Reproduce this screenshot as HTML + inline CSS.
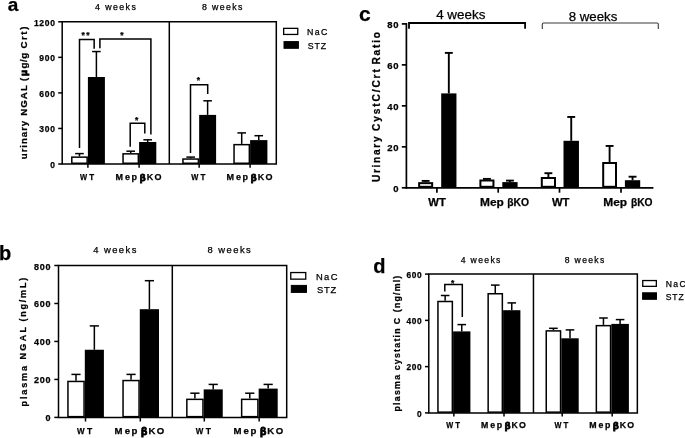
<!DOCTYPE html>
<html lang="en"><head><meta charset="utf-8"><title>Figure</title>
<style>
html,body{margin:0;padding:0;background:#fff;}
body{width:685px;height:438px;overflow:hidden;}
svg{display:block;font-family:"Liberation Sans", sans-serif;}
text{stroke:#000;stroke-width:0.25px;}
</style></head><body>
<svg width="685" height="438" viewBox="0 0 685 438">
<rect width="685" height="438" fill="#fff"/>
<path d="M62.2 21.8 H276.3 V164.0 H62.2 Z" fill="none" stroke="#000" stroke-width="1.5" stroke-linejoin="miter"/>
<line x1="169.30" y1="21.80" x2="169.30" y2="164.00" stroke="#000" stroke-width="1.5" stroke-linecap="butt"/>
<line x1="58.20" y1="164.00" x2="62.20" y2="164.00" stroke="#000" stroke-width="1.5" stroke-linecap="butt"/>
<text x="55.60" y="167.80" font-size="8.5" text-anchor="end" fill="#000" font-weight="bold" letter-spacing="0.7" >0</text>
<line x1="58.20" y1="128.45" x2="62.20" y2="128.45" stroke="#000" stroke-width="1.5" stroke-linecap="butt"/>
<text x="55.60" y="132.25" font-size="8.5" text-anchor="end" fill="#000" font-weight="bold" letter-spacing="0.7" >300</text>
<line x1="58.20" y1="92.90" x2="62.20" y2="92.90" stroke="#000" stroke-width="1.5" stroke-linecap="butt"/>
<text x="55.60" y="96.70" font-size="8.5" text-anchor="end" fill="#000" font-weight="bold" letter-spacing="0.7" >600</text>
<line x1="58.20" y1="57.35" x2="62.20" y2="57.35" stroke="#000" stroke-width="1.5" stroke-linecap="butt"/>
<text x="55.60" y="61.15" font-size="8.5" text-anchor="end" fill="#000" font-weight="bold" letter-spacing="0.7" >900</text>
<line x1="58.20" y1="21.80" x2="62.20" y2="21.80" stroke="#000" stroke-width="1.5" stroke-linecap="butt"/>
<text x="55.60" y="25.60" font-size="8.5" text-anchor="end" fill="#000" font-weight="bold" letter-spacing="0.7" >1200</text>
<line x1="79.47" y1="153.60" x2="79.47" y2="156.40" stroke="#000" stroke-width="1.5" stroke-linecap="butt"/>
<line x1="75.17" y1="153.60" x2="83.77" y2="153.60" stroke="#000" stroke-width="1.5" stroke-linecap="butt"/>
<rect x="71.80" y="157.15" width="15.35" height="6.10" fill="#fff" stroke="#000" stroke-width="1.5"/>
<line x1="96.40" y1="51.55" x2="96.40" y2="77.00" stroke="#000" stroke-width="1.5" stroke-linecap="butt"/>
<line x1="92.10" y1="51.55" x2="100.70" y2="51.55" stroke="#000" stroke-width="1.5" stroke-linecap="butt"/>
<rect x="87.90" y="77.00" width="17.00" height="87.00" fill="#000"/>
<line x1="130.70" y1="151.20" x2="130.70" y2="153.10" stroke="#000" stroke-width="1.5" stroke-linecap="butt"/>
<line x1="126.40" y1="151.20" x2="135.00" y2="151.20" stroke="#000" stroke-width="1.5" stroke-linecap="butt"/>
<rect x="123.05" y="153.85" width="15.30" height="9.40" fill="#fff" stroke="#000" stroke-width="1.5"/>
<line x1="147.70" y1="139.80" x2="147.70" y2="142.00" stroke="#000" stroke-width="1.5" stroke-linecap="butt"/>
<line x1="143.40" y1="139.80" x2="152.00" y2="139.80" stroke="#000" stroke-width="1.5" stroke-linecap="butt"/>
<rect x="139.10" y="142.00" width="17.20" height="22.00" fill="#000"/>
<line x1="190.68" y1="157.10" x2="190.68" y2="158.30" stroke="#000" stroke-width="1.5" stroke-linecap="butt"/>
<line x1="186.38" y1="157.10" x2="194.98" y2="157.10" stroke="#000" stroke-width="1.5" stroke-linecap="butt"/>
<rect x="182.95" y="159.05" width="15.45" height="4.20" fill="#fff" stroke="#000" stroke-width="1.5"/>
<line x1="207.62" y1="100.80" x2="207.62" y2="114.90" stroke="#000" stroke-width="1.5" stroke-linecap="butt"/>
<line x1="203.32" y1="100.80" x2="211.93" y2="100.80" stroke="#000" stroke-width="1.5" stroke-linecap="butt"/>
<rect x="199.15" y="114.90" width="16.95" height="49.10" fill="#000"/>
<line x1="241.70" y1="132.90" x2="241.70" y2="143.90" stroke="#000" stroke-width="1.5" stroke-linecap="butt"/>
<line x1="237.40" y1="132.90" x2="246.00" y2="132.90" stroke="#000" stroke-width="1.5" stroke-linecap="butt"/>
<rect x="234.05" y="144.65" width="15.30" height="18.60" fill="#fff" stroke="#000" stroke-width="1.5"/>
<line x1="258.75" y1="135.70" x2="258.75" y2="140.10" stroke="#000" stroke-width="1.5" stroke-linecap="butt"/>
<line x1="254.45" y1="135.70" x2="263.05" y2="135.70" stroke="#000" stroke-width="1.5" stroke-linecap="butt"/>
<rect x="250.10" y="140.10" width="17.30" height="23.90" fill="#000"/>
<line x1="87.90" y1="164.00" x2="87.90" y2="167.80" stroke="#000" stroke-width="1.5" stroke-linecap="butt"/>
<line x1="139.10" y1="164.00" x2="139.10" y2="167.80" stroke="#000" stroke-width="1.5" stroke-linecap="butt"/>
<line x1="199.15" y1="164.00" x2="199.15" y2="167.80" stroke="#000" stroke-width="1.5" stroke-linecap="butt"/>
<line x1="250.10" y1="164.00" x2="250.10" y2="167.80" stroke="#000" stroke-width="1.5" stroke-linecap="butt"/>
<text x="80.00" y="179.80" font-size="9.30" font-weight="bold" textLength="7.10" lengthAdjust="spacingAndGlyphs">W</text>
<text x="89.35" y="179.80" font-size="9.30" font-weight="bold" textLength="4.90" lengthAdjust="spacingAndGlyphs">T</text>
<text x="115.60 125.10 131.60" y="179.80" font-size="9.00" font-weight="bold">Mep</text>
<text x="139.80" y="180.90" font-size="9.60" font-weight="bold" style="stroke-width:0.9px">β</text>
<text x="146.80 154.55" y="179.80" font-size="9.00" font-weight="bold">KO</text>
<text x="191.25" y="179.80" font-size="9.30" font-weight="bold" textLength="7.10" lengthAdjust="spacingAndGlyphs">W</text>
<text x="200.60" y="179.80" font-size="9.30" font-weight="bold" textLength="4.90" lengthAdjust="spacingAndGlyphs">T</text>
<text x="226.60 236.10 242.60" y="179.80" font-size="9.00" font-weight="bold">Mep</text>
<text x="250.80" y="180.90" font-size="9.60" font-weight="bold" style="stroke-width:0.9px">β</text>
<text x="257.80 265.55" y="179.80" font-size="9.00" font-weight="bold">KO</text>
<text x="95.00" y="10.00" font-size="8.8" text-anchor="start" fill="#000" letter-spacing="1.42" >4 weeks</text>
<text x="202.00" y="10.00" font-size="8.8" text-anchor="start" fill="#000" letter-spacing="1.37" >8 weeks</text>
<text x="13.00" y="11.40" font-size="19" text-anchor="middle" fill="#000" font-weight="bold" >a</text>
<text x="26.80" y="159.20" font-size="9.7" text-anchor="start" fill="#000" font-weight="bold" letter-spacing="0.936" transform="rotate(-90 26.80 159.20)" >urinary</text>
<text x="26.80" y="115.80" font-size="9.7" text-anchor="start" fill="#000" font-weight="bold" letter-spacing="1.073" transform="rotate(-90 26.80 115.80)" >NGAL</text>
<text x="26.80" y="81.00" font-size="9.7" text-anchor="start" fill="#000" font-weight="bold" transform="rotate(-90 26.80 81.00)" >(</text>
<text x="26.8" y="75.9" font-size="9.7" font-weight="bold" style="stroke-width:0.9px" transform="rotate(-90 26.8 75.9)">μ</text>
<text x="26.80" y="68.40" font-size="9.7" text-anchor="start" fill="#000" font-weight="bold" letter-spacing="0.477" transform="rotate(-90 26.80 68.40)" >g/g</text>
<text x="26.80" y="48.50" font-size="9.7" text-anchor="start" fill="#000" font-weight="bold" letter-spacing="1.553" transform="rotate(-90 26.80 48.50)" >Crt)</text>
<rect x="283.65" y="28.35" width="14.10" height="6.10" fill="#fff" stroke="#000" stroke-width="1.3"/>
<rect x="284.00" y="41.60" width="14.40" height="6.70" fill="#000" stroke="#000" stroke-width="1.0"/>
<text x="306.90" y="35.30" font-size="8.8" text-anchor="start" fill="#000" letter-spacing="1.448" >NaC</text>
<text x="307.70" y="48.80" font-size="8.8" text-anchor="start" fill="#000" letter-spacing="0.94" >STZ</text>
<path d="M79.50 148.00 V39.50 H94.15 V48.80" fill="none" stroke="#000" stroke-width="1.5" stroke-linejoin="miter"/>
<path d="M99.90 48.20 V38.90 H150.90 V134.50" fill="none" stroke="#000" stroke-width="1.5" stroke-linejoin="miter"/>
<path d="M130.20 146.80 V123.30 H144.80 V133.60" fill="none" stroke="#000" stroke-width="1.5" stroke-linejoin="miter"/>
<path d="M190.50 152.90 V84.80 H207.70 V94.10" fill="none" stroke="#000" stroke-width="1.5" stroke-linejoin="miter"/>
<text x="86.25" y="38.40" font-size="8.5" text-anchor="middle" fill="#000" font-weight="bold" letter-spacing="1.5" >**</text>
<text x="122.00" y="38.40" font-size="8.5" text-anchor="middle" fill="#000" font-weight="bold" >*</text>
<text x="136.60" y="122.80" font-size="8.5" text-anchor="middle" fill="#000" font-weight="bold" >*</text>
<text x="198.30" y="82.50" font-size="8.5" text-anchor="middle" fill="#000" font-weight="bold" >*</text>
<path d="M58.5 265.5 H286.7 V417.4 H58.5 Z" fill="none" stroke="#000" stroke-width="1.5" stroke-linejoin="miter"/>
<line x1="172.30" y1="265.50" x2="172.30" y2="417.40" stroke="#000" stroke-width="1.5" stroke-linecap="butt"/>
<line x1="54.30" y1="417.40" x2="58.50" y2="417.40" stroke="#000" stroke-width="1.5" stroke-linecap="butt"/>
<text x="51.20" y="421.40" font-size="9.0" text-anchor="end" fill="#000" font-weight="bold" letter-spacing="0.75" >0</text>
<line x1="54.30" y1="379.42" x2="58.50" y2="379.42" stroke="#000" stroke-width="1.5" stroke-linecap="butt"/>
<text x="51.20" y="383.42" font-size="9.0" text-anchor="end" fill="#000" font-weight="bold" letter-spacing="0.75" >200</text>
<line x1="54.30" y1="341.45" x2="58.50" y2="341.45" stroke="#000" stroke-width="1.5" stroke-linecap="butt"/>
<text x="51.20" y="345.45" font-size="9.0" text-anchor="end" fill="#000" font-weight="bold" letter-spacing="0.75" >400</text>
<line x1="54.30" y1="303.48" x2="58.50" y2="303.48" stroke="#000" stroke-width="1.5" stroke-linecap="butt"/>
<text x="51.20" y="307.48" font-size="9.0" text-anchor="end" fill="#000" font-weight="bold" letter-spacing="0.75" >600</text>
<line x1="54.30" y1="265.50" x2="58.50" y2="265.50" stroke="#000" stroke-width="1.5" stroke-linecap="butt"/>
<text x="51.20" y="269.50" font-size="9.0" text-anchor="end" fill="#000" font-weight="bold" letter-spacing="0.75" >800</text>
<line x1="76.00" y1="374.40" x2="76.00" y2="380.70" stroke="#000" stroke-width="1.5" stroke-linecap="butt"/>
<line x1="71.40" y1="374.40" x2="80.60" y2="374.40" stroke="#000" stroke-width="1.5" stroke-linecap="butt"/>
<rect x="67.95" y="381.45" width="16.10" height="35.20" fill="#fff" stroke="#000" stroke-width="1.5"/>
<line x1="94.35" y1="325.90" x2="94.35" y2="349.75" stroke="#000" stroke-width="1.5" stroke-linecap="butt"/>
<line x1="89.75" y1="325.90" x2="98.95" y2="325.90" stroke="#000" stroke-width="1.5" stroke-linecap="butt"/>
<rect x="84.80" y="349.75" width="19.10" height="67.65" fill="#000"/>
<line x1="131.05" y1="374.40" x2="131.05" y2="379.80" stroke="#000" stroke-width="1.5" stroke-linecap="butt"/>
<line x1="126.45" y1="374.40" x2="135.65" y2="374.40" stroke="#000" stroke-width="1.5" stroke-linecap="butt"/>
<rect x="123.05" y="380.55" width="16.00" height="36.10" fill="#fff" stroke="#000" stroke-width="1.5"/>
<line x1="149.40" y1="280.70" x2="149.40" y2="309.20" stroke="#000" stroke-width="1.5" stroke-linecap="butt"/>
<line x1="144.80" y1="280.70" x2="154.00" y2="280.70" stroke="#000" stroke-width="1.5" stroke-linecap="butt"/>
<rect x="139.80" y="309.20" width="19.20" height="108.20" fill="#000"/>
<line x1="194.90" y1="393.20" x2="194.90" y2="398.60" stroke="#000" stroke-width="1.5" stroke-linecap="butt"/>
<line x1="190.30" y1="393.20" x2="199.50" y2="393.20" stroke="#000" stroke-width="1.5" stroke-linecap="butt"/>
<rect x="186.85" y="399.35" width="16.10" height="17.30" fill="#fff" stroke="#000" stroke-width="1.5"/>
<line x1="213.22" y1="384.40" x2="213.22" y2="389.40" stroke="#000" stroke-width="1.5" stroke-linecap="butt"/>
<line x1="208.62" y1="384.40" x2="217.82" y2="384.40" stroke="#000" stroke-width="1.5" stroke-linecap="butt"/>
<rect x="203.70" y="389.40" width="19.05" height="28.00" fill="#000"/>
<line x1="249.77" y1="393.20" x2="249.77" y2="398.60" stroke="#000" stroke-width="1.5" stroke-linecap="butt"/>
<line x1="245.17" y1="393.20" x2="254.37" y2="393.20" stroke="#000" stroke-width="1.5" stroke-linecap="butt"/>
<rect x="241.65" y="399.35" width="16.25" height="17.30" fill="#fff" stroke="#000" stroke-width="1.5"/>
<line x1="268.17" y1="384.40" x2="268.17" y2="388.60" stroke="#000" stroke-width="1.5" stroke-linecap="butt"/>
<line x1="263.57" y1="384.40" x2="272.77" y2="384.40" stroke="#000" stroke-width="1.5" stroke-linecap="butt"/>
<rect x="258.65" y="388.60" width="19.05" height="28.80" fill="#000"/>
<line x1="85.50" y1="417.40" x2="85.50" y2="421.50" stroke="#000" stroke-width="1.5" stroke-linecap="butt"/>
<line x1="140.30" y1="417.40" x2="140.30" y2="421.50" stroke="#000" stroke-width="1.5" stroke-linecap="butt"/>
<line x1="204.30" y1="417.40" x2="204.30" y2="421.50" stroke="#000" stroke-width="1.5" stroke-linecap="butt"/>
<line x1="259.15" y1="417.40" x2="259.15" y2="421.50" stroke="#000" stroke-width="1.5" stroke-linecap="butt"/>
<text x="77.07" y="433.90" font-size="9.92" font-weight="bold" textLength="7.58" lengthAdjust="spacingAndGlyphs">W</text>
<text x="87.05" y="433.90" font-size="9.92" font-weight="bold" textLength="5.23" lengthAdjust="spacingAndGlyphs">T</text>
<text x="114.53 124.66 131.60" y="433.90" font-size="9.60" font-weight="bold">Mep</text>
<text x="141.05" y="435.07" font-size="10.24" font-weight="bold" style="stroke-width:0.9px">β</text>
<text x="148.52 156.79" y="433.90" font-size="9.60" font-weight="bold">KO</text>
<text x="195.87" y="433.90" font-size="9.92" font-weight="bold" textLength="7.58" lengthAdjust="spacingAndGlyphs">W</text>
<text x="205.85" y="433.90" font-size="9.92" font-weight="bold" textLength="5.23" lengthAdjust="spacingAndGlyphs">T</text>
<text x="233.38 243.51 250.45" y="433.90" font-size="9.60" font-weight="bold">Mep</text>
<text x="259.90" y="435.07" font-size="10.24" font-weight="bold" style="stroke-width:0.9px">β</text>
<text x="267.37 275.64" y="433.90" font-size="9.60" font-weight="bold">KO</text>
<text x="93.20" y="252.80" font-size="9.4" text-anchor="start" fill="#000" letter-spacing="1.469" >4 weeks</text>
<text x="207.60" y="252.80" font-size="9.4" text-anchor="start" fill="#000" letter-spacing="1.469" >8 weeks</text>
<text x="5.00" y="260.00" font-size="20" text-anchor="middle" fill="#000" font-weight="bold" >b</text>
<text x="26.50" y="406.50" font-size="9.0" text-anchor="start" fill="#000" font-weight="bold" letter-spacing="1.897" transform="rotate(-90 26.50 406.50)" >plasma</text>
<text x="26.50" y="359.60" font-size="9.0" text-anchor="start" fill="#000" font-weight="bold" letter-spacing="2.401" transform="rotate(-90 26.50 359.60)" >NGAL</text>
<text x="26.50" y="321.60" font-size="9.0" text-anchor="start" fill="#000" font-weight="bold" letter-spacing="1.802" transform="rotate(-90 26.50 321.60)" >(ng/mL)</text>
<rect x="290.75" y="272.55" width="15.00" height="6.60" fill="#fff" stroke="#000" stroke-width="1.3"/>
<rect x="291.30" y="285.40" width="15.20" height="7.00" fill="#000" stroke="#000" stroke-width="1.0"/>
<text x="316.00" y="280.10" font-size="9.4" text-anchor="start" fill="#000" letter-spacing="1.348" >NaC</text>
<text x="316.90" y="292.90" font-size="9.4" text-anchor="start" fill="#000" letter-spacing="0.873" >STZ</text>
<line x1="406.40" y1="23.05" x2="406.40" y2="188.65" stroke="#000" stroke-width="1.7" stroke-linecap="butt"/>
<line x1="405.55" y1="187.80" x2="653.40" y2="187.80" stroke="#000" stroke-width="1.7" stroke-linecap="butt"/>
<line x1="401.80" y1="187.80" x2="406.40" y2="187.80" stroke="#000" stroke-width="1.7" stroke-linecap="butt"/>
<text x="399.20" y="192.00" font-size="9.5" text-anchor="end" fill="#000" font-weight="bold" letter-spacing="0.7" >0</text>
<line x1="401.80" y1="146.83" x2="406.40" y2="146.83" stroke="#000" stroke-width="1.7" stroke-linecap="butt"/>
<text x="399.20" y="151.03" font-size="9.5" text-anchor="end" fill="#000" font-weight="bold" letter-spacing="0.7" >20</text>
<line x1="401.80" y1="105.85" x2="406.40" y2="105.85" stroke="#000" stroke-width="1.7" stroke-linecap="butt"/>
<text x="399.20" y="110.05" font-size="9.5" text-anchor="end" fill="#000" font-weight="bold" letter-spacing="0.7" >40</text>
<line x1="401.80" y1="64.88" x2="406.40" y2="64.88" stroke="#000" stroke-width="1.7" stroke-linecap="butt"/>
<text x="399.20" y="69.08" font-size="9.5" text-anchor="end" fill="#000" font-weight="bold" letter-spacing="0.7" >60</text>
<line x1="401.80" y1="23.90" x2="406.40" y2="23.90" stroke="#000" stroke-width="1.7" stroke-linecap="butt"/>
<text x="399.20" y="28.10" font-size="9.5" text-anchor="end" fill="#000" font-weight="bold" letter-spacing="0.7" >80</text>
<line x1="425.65" y1="180.90" x2="425.65" y2="182.15" stroke="#000" stroke-width="1.9" stroke-linecap="butt"/>
<line x1="421.70" y1="180.90" x2="429.60" y2="180.90" stroke="#000" stroke-width="1.9" stroke-linecap="butt"/>
<rect x="419.15" y="183.15" width="13.00" height="3.65" fill="#fff" stroke="#000" stroke-width="2.0"/>
<line x1="448.82" y1="52.90" x2="448.82" y2="93.40" stroke="#000" stroke-width="1.9" stroke-linecap="butt"/>
<line x1="444.88" y1="52.90" x2="452.77" y2="52.90" stroke="#000" stroke-width="1.9" stroke-linecap="butt"/>
<rect x="441.20" y="93.40" width="15.25" height="94.40" fill="#000"/>
<line x1="486.92" y1="178.90" x2="486.92" y2="179.50" stroke="#000" stroke-width="1.9" stroke-linecap="butt"/>
<line x1="482.97" y1="178.90" x2="490.87" y2="178.90" stroke="#000" stroke-width="1.9" stroke-linecap="butt"/>
<rect x="480.40" y="180.50" width="13.05" height="6.30" fill="#fff" stroke="#000" stroke-width="2.0"/>
<line x1="509.95" y1="180.60" x2="509.95" y2="182.10" stroke="#000" stroke-width="1.9" stroke-linecap="butt"/>
<line x1="506.00" y1="180.60" x2="513.90" y2="180.60" stroke="#000" stroke-width="1.9" stroke-linecap="butt"/>
<rect x="502.30" y="182.10" width="15.30" height="5.70" fill="#000"/>
<line x1="548.40" y1="173.20" x2="548.40" y2="177.00" stroke="#000" stroke-width="1.9" stroke-linecap="butt"/>
<line x1="544.45" y1="173.20" x2="552.35" y2="173.20" stroke="#000" stroke-width="1.9" stroke-linecap="butt"/>
<rect x="541.80" y="178.00" width="13.20" height="8.80" fill="#fff" stroke="#000" stroke-width="2.0"/>
<line x1="571.23" y1="116.95" x2="571.23" y2="140.80" stroke="#000" stroke-width="1.9" stroke-linecap="butt"/>
<line x1="567.27" y1="116.95" x2="575.18" y2="116.95" stroke="#000" stroke-width="1.9" stroke-linecap="butt"/>
<rect x="563.50" y="140.80" width="15.45" height="47.00" fill="#000"/>
<line x1="609.60" y1="145.95" x2="609.60" y2="162.00" stroke="#000" stroke-width="1.9" stroke-linecap="butt"/>
<line x1="605.65" y1="145.95" x2="613.55" y2="145.95" stroke="#000" stroke-width="1.9" stroke-linecap="butt"/>
<rect x="603.20" y="163.00" width="12.80" height="23.80" fill="#fff" stroke="#000" stroke-width="2.0"/>
<line x1="632.55" y1="176.70" x2="632.55" y2="180.20" stroke="#000" stroke-width="1.9" stroke-linecap="butt"/>
<line x1="628.60" y1="176.70" x2="636.50" y2="176.70" stroke="#000" stroke-width="1.9" stroke-linecap="butt"/>
<rect x="624.90" y="180.20" width="15.30" height="7.60" fill="#000"/>
<line x1="436.90" y1="187.80" x2="436.90" y2="192.70" stroke="#000" stroke-width="1.7" stroke-linecap="butt"/>
<line x1="498.20" y1="187.80" x2="498.20" y2="192.70" stroke="#000" stroke-width="1.7" stroke-linecap="butt"/>
<line x1="559.50" y1="187.80" x2="559.50" y2="192.70" stroke="#000" stroke-width="1.7" stroke-linecap="butt"/>
<line x1="621.00" y1="187.80" x2="621.00" y2="192.70" stroke="#000" stroke-width="1.7" stroke-linecap="butt"/>
<text x="428.30" y="206.10" font-size="11" font-weight="bold" textLength="17.50" lengthAdjust="spacingAndGlyphs">WT</text>
<text x="480.00" y="206.10" font-size="11" font-weight="bold" textLength="23.80" lengthAdjust="spacingAndGlyphs">Mep</text>
<text x="507.30" y="206.10" font-size="11" font-weight="bold" textLength="21.80" lengthAdjust="spacingAndGlyphs">βKO</text>
<text x="552.00" y="206.10" font-size="11" font-weight="bold" textLength="17.50" lengthAdjust="spacingAndGlyphs">WT</text>
<text x="603.20" y="206.10" font-size="11" font-weight="bold" textLength="23.90" lengthAdjust="spacingAndGlyphs">Mep</text>
<text x="630.90" y="206.10" font-size="11" font-weight="bold" textLength="21.60" lengthAdjust="spacingAndGlyphs">βKO</text>
<text x="436.20" y="19.20" font-size="13.3" textLength="49.20" lengthAdjust="spacingAndGlyphs">4 weeks</text>
<text x="568.70" y="20.70" font-size="13.3" textLength="48.70" lengthAdjust="spacingAndGlyphs">8 weeks</text>
<text x="364.80" y="21.30" font-size="21" text-anchor="middle" fill="#000" font-weight="bold" >c</text>
<text x="380.30" y="182.00" font-size="10.2" text-anchor="start" fill="#000" font-weight="bold" letter-spacing="1.648" transform="rotate(-90 380.30 182.00)" >Urinary</text>
<text x="380.30" y="131.00" font-size="10.2" text-anchor="start" fill="#000" font-weight="bold" letter-spacing="1.857" transform="rotate(-90 380.30 131.00)" >CystC/Crt</text>
<text x="380.30" y="64.60" font-size="10.2" text-anchor="start" fill="#000" font-weight="bold" letter-spacing="1.775" transform="rotate(-90 380.30 64.60)" >Ratio</text>
<path d="M409 28.7 V23 H525.1 V28.7" fill="none" stroke="#000" stroke-width="1.8" stroke-linejoin="miter"/>
<path d="M542.3 28.9 V24.2 Q542.3 23 543.5 23 H657.1 Q658.3 23 658.3 24.2 V28.9" fill="none" stroke="#3a3a3a" stroke-width="1.1" stroke-linejoin="miter"/>
<path d="M428.8 274.1 H637.35 V412.9 H428.8 Z" fill="none" stroke="#000" stroke-width="1.5" stroke-linejoin="miter"/>
<line x1="533.45" y1="274.10" x2="533.45" y2="412.90" stroke="#000" stroke-width="1.5" stroke-linecap="butt"/>
<line x1="425.00" y1="412.90" x2="428.80" y2="412.90" stroke="#000" stroke-width="1.5" stroke-linecap="butt"/>
<text x="422.40" y="416.70" font-size="8.3" text-anchor="end" fill="#000" font-weight="bold" letter-spacing="0.7" >0</text>
<line x1="425.00" y1="366.63" x2="428.80" y2="366.63" stroke="#000" stroke-width="1.5" stroke-linecap="butt"/>
<text x="422.40" y="370.43" font-size="8.3" text-anchor="end" fill="#000" font-weight="bold" letter-spacing="0.7" >200</text>
<line x1="425.00" y1="320.37" x2="428.80" y2="320.37" stroke="#000" stroke-width="1.5" stroke-linecap="butt"/>
<text x="422.40" y="324.17" font-size="8.3" text-anchor="end" fill="#000" font-weight="bold" letter-spacing="0.7" >400</text>
<line x1="425.00" y1="274.10" x2="428.80" y2="274.10" stroke="#000" stroke-width="1.5" stroke-linecap="butt"/>
<text x="422.40" y="277.90" font-size="8.3" text-anchor="end" fill="#000" font-weight="bold" letter-spacing="0.7" >600</text>
<line x1="445.15" y1="295.50" x2="445.15" y2="300.75" stroke="#000" stroke-width="1.5" stroke-linecap="butt"/>
<line x1="440.85" y1="295.50" x2="449.45" y2="295.50" stroke="#000" stroke-width="1.5" stroke-linecap="butt"/>
<rect x="437.95" y="301.50" width="14.40" height="110.65" fill="#fff" stroke="#000" stroke-width="1.5"/>
<line x1="461.75" y1="324.60" x2="461.75" y2="331.40" stroke="#000" stroke-width="1.5" stroke-linecap="butt"/>
<line x1="457.45" y1="324.60" x2="466.05" y2="324.60" stroke="#000" stroke-width="1.5" stroke-linecap="butt"/>
<rect x="453.10" y="331.40" width="17.30" height="81.50" fill="#000"/>
<line x1="495.25" y1="285.10" x2="495.25" y2="293.00" stroke="#000" stroke-width="1.5" stroke-linecap="butt"/>
<line x1="490.95" y1="285.10" x2="499.55" y2="285.10" stroke="#000" stroke-width="1.5" stroke-linecap="butt"/>
<rect x="488.15" y="293.75" width="14.20" height="118.40" fill="#fff" stroke="#000" stroke-width="1.5"/>
<line x1="511.75" y1="302.90" x2="511.75" y2="310.20" stroke="#000" stroke-width="1.5" stroke-linecap="butt"/>
<line x1="507.45" y1="302.90" x2="516.05" y2="302.90" stroke="#000" stroke-width="1.5" stroke-linecap="butt"/>
<rect x="503.10" y="310.20" width="17.30" height="102.70" fill="#000"/>
<line x1="553.40" y1="328.30" x2="553.40" y2="330.15" stroke="#000" stroke-width="1.5" stroke-linecap="butt"/>
<line x1="549.10" y1="328.30" x2="557.70" y2="328.30" stroke="#000" stroke-width="1.5" stroke-linecap="butt"/>
<rect x="546.25" y="330.90" width="14.30" height="81.25" fill="#fff" stroke="#000" stroke-width="1.5"/>
<line x1="570.00" y1="329.90" x2="570.00" y2="338.30" stroke="#000" stroke-width="1.5" stroke-linecap="butt"/>
<line x1="565.70" y1="329.90" x2="574.30" y2="329.90" stroke="#000" stroke-width="1.5" stroke-linecap="butt"/>
<rect x="561.30" y="338.30" width="17.40" height="74.60" fill="#000"/>
<line x1="603.45" y1="318.00" x2="603.45" y2="324.90" stroke="#000" stroke-width="1.5" stroke-linecap="butt"/>
<line x1="599.15" y1="318.00" x2="607.75" y2="318.00" stroke="#000" stroke-width="1.5" stroke-linecap="butt"/>
<rect x="596.35" y="325.65" width="14.20" height="86.50" fill="#fff" stroke="#000" stroke-width="1.5"/>
<line x1="620.10" y1="319.60" x2="620.10" y2="323.90" stroke="#000" stroke-width="1.5" stroke-linecap="butt"/>
<line x1="615.80" y1="319.60" x2="624.40" y2="319.60" stroke="#000" stroke-width="1.5" stroke-linecap="butt"/>
<rect x="611.30" y="323.90" width="17.60" height="89.00" fill="#000"/>
<line x1="453.85" y1="412.90" x2="453.85" y2="416.50" stroke="#000" stroke-width="1.5" stroke-linecap="butt"/>
<line x1="504.00" y1="412.90" x2="504.00" y2="416.50" stroke="#000" stroke-width="1.5" stroke-linecap="butt"/>
<line x1="562.20" y1="412.90" x2="562.20" y2="416.50" stroke="#000" stroke-width="1.5" stroke-linecap="butt"/>
<line x1="612.20" y1="412.90" x2="612.20" y2="416.50" stroke="#000" stroke-width="1.5" stroke-linecap="butt"/>
<text x="446.15" y="427.60" font-size="9.07" font-weight="bold" textLength="6.92" lengthAdjust="spacingAndGlyphs">W</text>
<text x="455.26" y="427.60" font-size="9.07" font-weight="bold" textLength="4.78" lengthAdjust="spacingAndGlyphs">T</text>
<text x="481.09 490.35 496.69" y="427.60" font-size="8.78" font-weight="bold">Mep</text>
<text x="504.68" y="428.67" font-size="9.36" font-weight="bold" style="stroke-width:0.9px">β</text>
<text x="511.51 519.06" y="427.60" font-size="8.78" font-weight="bold">KO</text>
<text x="554.50" y="427.60" font-size="9.07" font-weight="bold" textLength="6.92" lengthAdjust="spacingAndGlyphs">W</text>
<text x="563.61" y="427.60" font-size="9.07" font-weight="bold" textLength="4.78" lengthAdjust="spacingAndGlyphs">T</text>
<text x="589.29 598.55 604.89" y="427.60" font-size="8.78" font-weight="bold">Mep</text>
<text x="612.88" y="428.67" font-size="9.36" font-weight="bold" style="stroke-width:0.9px">β</text>
<text x="619.71 627.26" y="427.60" font-size="8.78" font-weight="bold">KO</text>
<text x="460.65" y="262.60" font-size="8.6" text-anchor="start" fill="#000" letter-spacing="1.375" >4 weeks</text>
<text x="564.80" y="262.60" font-size="8.6" text-anchor="start" fill="#000" letter-spacing="1.325" >8 weeks</text>
<text x="379.30" y="272.60" font-size="20" text-anchor="middle" fill="#000" font-weight="bold" >d</text>
<text x="399.60" y="411.50" font-size="8.8" text-anchor="start" fill="#000" font-weight="bold" letter-spacing="1.255" transform="rotate(-90 399.60 411.50)" >plasma</text>
<text x="399.60" y="370.30" font-size="8.8" text-anchor="start" fill="#000" font-weight="bold" letter-spacing="1.249" transform="rotate(-90 399.60 370.30)" >cystatin</text>
<text x="399.60" y="324.20" font-size="8.8" text-anchor="start" fill="#000" font-weight="bold" transform="rotate(-90 399.60 324.20)" >C</text>
<text x="399.60" y="312.20" font-size="8.8" text-anchor="start" fill="#000" font-weight="bold" letter-spacing="1.179" transform="rotate(-90 399.60 312.20)" >(ng/ml)</text>
<rect x="642.75" y="280.55" width="13.60" height="5.80" fill="#fff" stroke="#000" stroke-width="1.3"/>
<rect x="642.60" y="292.80" width="13.90" height="6.50" fill="#000" stroke="#000" stroke-width="1.0"/>
<text x="665.70" y="287.40" font-size="8.6" text-anchor="start" fill="#000" letter-spacing="1.398" >NaC</text>
<text x="665.70" y="299.80" font-size="8.6" text-anchor="start" fill="#000" letter-spacing="0.879" >STZ</text>
<path d="M444.80 291.60 V284.40 H462.30 V317.10" fill="none" stroke="#000" stroke-width="1.5" stroke-linejoin="miter"/>
<text x="452.60" y="286.00" font-size="8.5" text-anchor="middle" fill="#000" font-weight="bold" >*</text>
</svg>
</body></html>
